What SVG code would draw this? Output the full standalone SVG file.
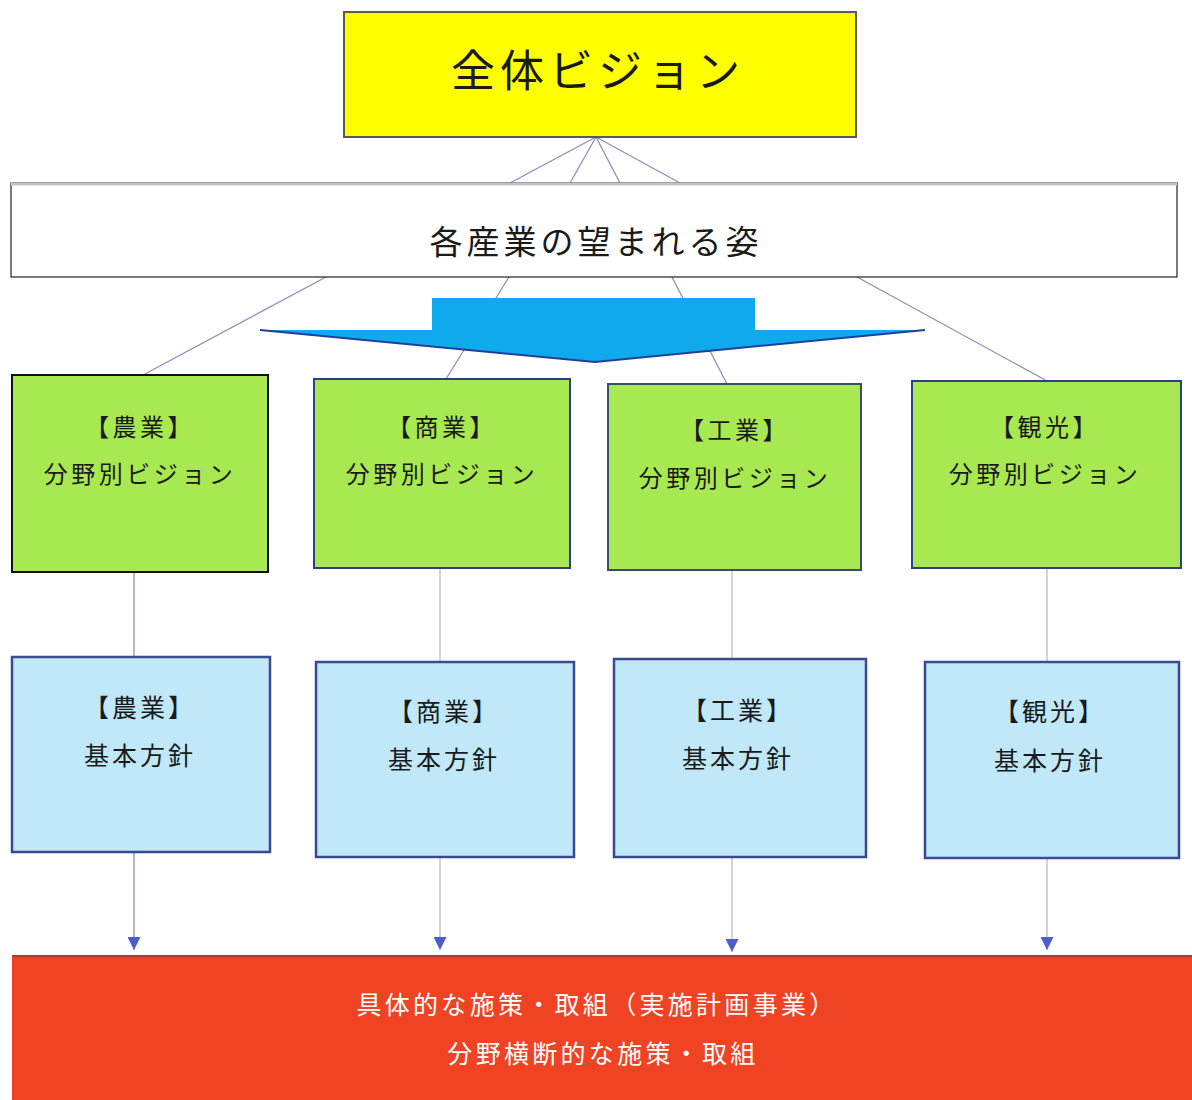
<svg xmlns="http://www.w3.org/2000/svg" width="1192" height="1100" viewBox="0 0 1192 1100">
<defs>
<style>
text{font-family:"Noto Sans CJK JP","Noto Sans CJK SC",sans-serif;text-anchor:middle;dominant-baseline:central;fill:#1a1a1a}
.green{fill:#A8E850;stroke-width:2}
.blue{fill:#C0E8F8;stroke:#3A4A90;stroke-width:2.5}
.t1{font-size:24px;letter-spacing:3.5px}
.t2{font-size:25px;letter-spacing:3px}
.wt{fill:#ffffff;font-size:25px;letter-spacing:3.3px}
.ln{stroke:#8890C0;stroke-width:1.3;fill:none}
.lg{stroke:#C4C4CC;stroke-width:1.5;fill:none}
</style>
<marker id="ah" viewBox="0 0 10 10" refX="10" refY="5" markerWidth="14" markerHeight="13" markerUnits="userSpaceOnUse" orient="auto">
<path d="M0,0 L10,5 L0,10 z" fill="#4A5FC8"/>
</marker>
</defs>
<rect width="1192" height="1100" fill="#ffffff"/>

<g id="connectors">
<line class="ln" x1="596" y1="137" x2="510" y2="183"/>
<line class="ln" x1="596" y1="137" x2="570" y2="183"/>
<line class="ln" x1="596" y1="137" x2="620" y2="183"/>
<line class="ln" x1="596" y1="137" x2="680" y2="183"/>
<line class="ln" x1="326" y1="277" x2="143" y2="375"/>
<line class="ln" x1="509" y1="277" x2="446" y2="379"/>
<line class="ln" x1="672" y1="277" x2="727" y2="384"/>
<line class="ln" x1="857" y1="277" x2="1047" y2="381"/>
<line class="ln" x1="134" y1="572" x2="134" y2="657"/>
<line class="lg" x1="440" y1="568" x2="440" y2="662"/>
<line class="lg" x1="732" y1="570" x2="732" y2="659"/>
<line class="lg" x1="1047" y1="568" x2="1047" y2="662"/>
<line class="ln" x1="134" y1="852" x2="134" y2="950" marker-end="url(#ah)"/>
<line class="lg" x1="440" y1="857" x2="440" y2="950" marker-end="url(#ah)"/>
<line class="lg" x1="732" y1="857" x2="732" y2="952" marker-end="url(#ah)"/>
<line class="lg" x1="1047" y1="858" x2="1047" y2="950" marker-end="url(#ah)"/>
</g>

<g id="big-arrow">
<polygon points="432,298 755,298 755,330 925,330 595,362 260,330 432,330" fill="#0FAAEC"/>
<polyline points="260,330 595,362 925,330" fill="none" stroke="#22409A" stroke-width="2"/>
</g>

<g id="overall-vision">
<rect x="344" y="12" width="512" height="125" fill="#FFFF00" stroke="#5A5A5A" stroke-width="2"/>
<text x="598" y="68" style="font-size:44px;letter-spacing:5px">全体ビジョン</text>
</g>

<g id="industry-vision">
<rect x="11" y="183" width="1166" height="94" fill="#ffffff" stroke="#222" stroke-width="1.2"/>
<line x1="11" y1="184" x2="1177" y2="184" stroke="#C4C4C4" stroke-width="3"/>
<text x="596" y="240" style="font-size:33px;letter-spacing:4px">各産業の望まれる姿</text>
</g>

<g id="vision-agri">
<rect class="green" x="12" y="375" width="256" height="197" stroke="#111"/>
<text class="t1" x="140" y="425">【農業】</text>
<text class="t1" x="140" y="472">分野別ビジョン</text>
</g>
<g id="vision-commerce">
<rect class="green" x="314" y="379" width="256" height="189" stroke="#2A3F8F"/>
<text class="t1" x="442" y="425">【商業】</text>
<text class="t1" x="442" y="472">分野別ビジョン</text>
</g>
<g id="vision-industry">
<rect class="green" x="608" y="384" width="253" height="186" stroke="#3A4E6A"/>
<text class="t1" x="735" y="428">【工業】</text>
<text class="t1" x="735" y="476">分野別ビジョン</text>
</g>
<g id="vision-tourism">
<rect class="green" x="912" y="381" width="269" height="187" stroke="#2A3F8F"/>
<text class="t1" x="1045" y="425">【観光】</text>
<text class="t1" x="1045" y="472">分野別ビジョン</text>
</g>

<g id="policy-agri">
<rect class="blue" x="12" y="657" width="258" height="195"/>
<text class="t2" x="140" y="706">【農業】</text>
<text class="t2" x="140" y="754">基本方針</text>
</g>
<g id="policy-commerce">
<rect class="blue" x="316" y="662" width="258" height="195"/>
<text class="t2" x="444" y="710">【商業】</text>
<text class="t2" x="444" y="758">基本方針</text>
</g>
<g id="policy-industry">
<rect class="blue" x="614" y="659" width="252" height="198"/>
<text class="t2" x="738" y="709">【工業】</text>
<text class="t2" x="738" y="757">基本方針</text>
</g>
<g id="policy-tourism">
<rect class="blue" x="925" y="662" width="254" height="196"/>
<text class="t2" x="1050" y="710">【観光】</text>
<text class="t2" x="1050" y="759">基本方針</text>
</g>

<g id="measures">
<rect x="12" y="955" width="1185" height="150" fill="#F04323"/>
<line x1="12" y1="956" x2="1192" y2="956" stroke="#B03A28" stroke-width="2"/>
<text class="wt" x="597" y="1003">具体的な施策・取組（実施計画事業）</text>
<text class="wt" x="603" y="1052">分野横断的な施策・取組</text>
</g>
</svg>
